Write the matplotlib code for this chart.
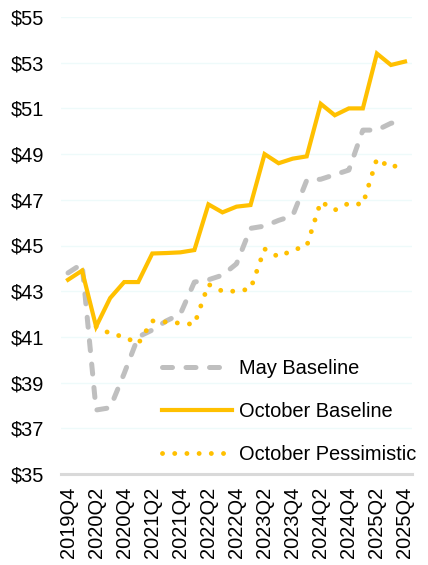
import numpy as np
import matplotlib
matplotlib.use("Agg")
import matplotlib.pyplot as plt

plt.rcParams['font.family'] = ['Liberation Sans', 'DejaVu Sans']

quarters = ['2019Q4', '2020Q1', '2020Q2', '2020Q3', '2020Q4',
            '2021Q1', '2021Q2', '2021Q3', '2021Q4',
            '2022Q1', '2022Q2', '2022Q3', '2022Q4',
            '2023Q1', '2023Q2', '2023Q3', '2023Q4',
            '2024Q1', '2024Q2', '2024Q3', '2024Q4',
            '2025Q1', '2025Q2', '2025Q3', '2025Q4']

may_baseline = [43.8, 44.2, 37.8, 37.9, 39.4, 41.0, 41.3, 41.7, 42.0,
                43.4, 43.5, 43.7, 44.2, 45.75, 45.85, 46.1, 46.3,
                47.85, 47.9, 48.1, 48.3, 50.05, 50.05, 50.35, 50.45]

oct_baseline = [43.5, 43.9, 41.45, 42.7, 43.4, 43.4, 44.65, 44.67, 44.7,
                44.8, 46.8, 46.45, 46.7, 46.77, 49.0, 48.6, 48.8,
                48.9, 51.2, 50.7, 51.0, 51.0, 53.4, 52.9, 53.05]

oct_pessimistic = [np.nan, np.nan, 41.45, 41.15, 41.0, 40.7, 41.7, 41.65, 41.6,
                   41.55, 43.3, 43.0, 43.0, 43.1, 44.85, 44.5, 44.8,
                   44.97, 46.92, 46.55, 46.85, 46.8, 48.8, 48.4, 48.65]

series_names = ['May Baseline', 'October Baseline', 'October Pessimistic']
y_ticks = [35, 37, 39, 41, 43, 45, 47, 49, 51, 53, 55]

W, H = 428, 565
fig = plt.figure(figsize=(W / 100, H / 100), dpi=100)
ax = fig.add_axes([61 / W, 1 - 474 / H, (412 - 61) / W, (474 - 17) / H])

x = np.arange(len(quarters))
gray = '#BFBFBF'
gold = '#FFC000'

ax.plot(x, may_baseline, color=gray, lw=3.6, dashes=(2.0, 2.7),
        dash_capstyle='round', solid_joinstyle='round', label=series_names[0], zorder=3)
ax.plot(x, oct_baseline, color=gold, lw=3.0, solid_joinstyle='miter',
        label=series_names[1], zorder=4)
ax.plot(x, oct_pessimistic, color=gold, lw=3.5, dashes=(0.01, 2.5),
        dash_capstyle='round', label=series_names[2], zorder=5)

ax.set_ylim(35, 55)
ax.set_xlim(-0.5, len(quarters) - 0.5)
ax.set_yticks(y_ticks)
ax.set_yticklabels([f'${v}' for v in y_ticks])
ax.set_xticks(x[::2])
ax.set_xticklabels(quarters[::2], rotation=90)

for s in ['left', 'right', 'top']:
    ax.spines[s].set_visible(False)
ax.spines['bottom'].set_color('#D9D9D9')
ax.spines['bottom'].set_linewidth(2.2)
ax.spines['bottom'].set_zorder(2)

ax.grid(axis='y', color='#EEFAFA', lw=1.0, zorder=0)
ax.set_axisbelow(True)
ax.tick_params(axis='both', length=0, labelsize=14.4, colors='black')
ax.tick_params(axis='y', pad=12)
ax.tick_params(axis='x', pad=9)

leg = fig.legend(loc='center left', bbox_to_anchor=(162 / W, 1 - 411.5 / H),
                 frameon=False, fontsize=14.4, handlelength=3.5,
                 handletextpad=0.35, labelspacing=1.2, borderpad=0,
                 borderaxespad=0)

fig.savefig('out.png', dpi=100)
